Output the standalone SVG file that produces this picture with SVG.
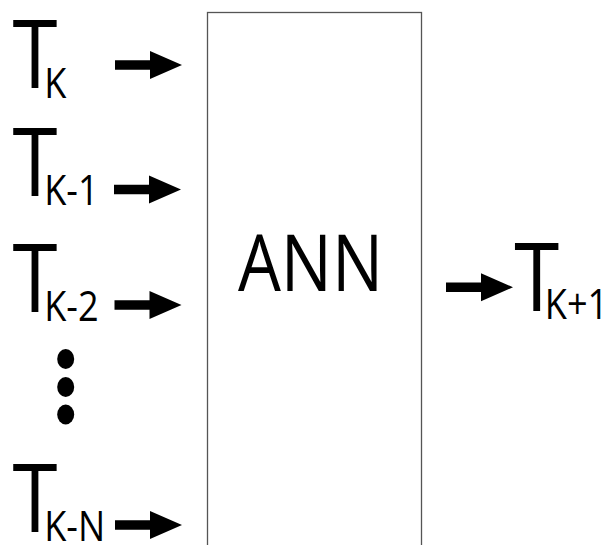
<svg xmlns="http://www.w3.org/2000/svg" width="606" height="545" viewBox="0 0 606 545">
  <style>
    .lbl { font-family: "Open Sans", "Noto Sans", "Liberation Sans", sans-serif; fill: #000; }
    .big { font-size: 95px; }
    .sub { font-size: 42px; }
    .box { fill: #fff; stroke: #555; stroke-width: 1.3; }
    .dot { fill: #000; }
  </style>
  <defs>
    <!-- block arrow: shaft + triangular head, pointing right, origin at left-centre -->
    <path id="blockArrow" d="M0,-4.75 H35 V-14 L67,0 L35,14 V4.75 H0 Z" fill="#000"/>
  </defs>
  <rect width="606" height="545" fill="#fff"/>

  <g id="ann">
    <rect class="box" x="207.5" y="12.5" width="214" height="560"/>
    <text class="lbl" font-size="79" text-anchor="middle" transform="translate(310.5 290.7) scale(0.86 1)">ANN</text>
  </g>

  <g id="t-k">
    <text class="lbl big" transform="translate(12.5 88) scale(0.86 1)">T<tspan class="sub" x="36.9" y="9.7">K</tspan></text>
  </g>
  <g id="t-k-1">
    <text class="lbl big" transform="translate(12.5 196) scale(0.86 1)">T<tspan class="sub" x="36.9" y="9">K-1</tspan></text>
  </g>
  <g id="t-k-2">
    <text class="lbl big" transform="translate(12.5 311.7) scale(0.86 1)">T<tspan class="sub" x="36.9" y="9.3">K-2</tspan></text>
  </g>
  <g id="ellipsis">
    <ellipse class="dot" cx="65.7" cy="359" rx="8.5" ry="10"/>
    <ellipse class="dot" cx="65.7" cy="387" rx="8.5" ry="10"/>
    <ellipse class="dot" cx="65.7" cy="414.5" rx="8.5" ry="10"/>
  </g>
  <g id="t-k-n">
    <text class="lbl big" transform="translate(12.5 531.7) scale(0.86 1)">T<tspan class="sub" x="36.9" y="9">K-N</tspan></text>
  </g>
  <g id="t-k+1">
    <text class="lbl big" transform="translate(514.2 310.7) scale(0.86 1)">T<tspan class="sub" x="35.6" y="8.3">K+1</tspan></text>
  </g>

  <g id="connectors">
    <use href="#blockArrow" transform="translate(115 65)"/>
    <use href="#blockArrow" transform="translate(114 189.5)"/>
    <use href="#blockArrow" transform="translate(114.5 305)"/>
    <use href="#blockArrow" transform="translate(115 525)"/>
    <use href="#blockArrow" transform="translate(446 287.3)"/>
  </g>
</svg>
